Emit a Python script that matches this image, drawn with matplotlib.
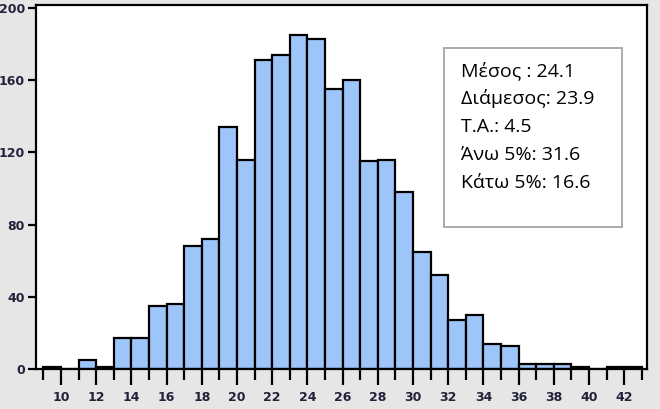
import numpy as np
import matplotlib.pyplot as plt

# histogram bins (left edges, width 1) and counts
bin_left = list(range(9, 43))
counts = [1, 0, 5, 1, 17, 17, 35, 36, 68, 72,
          134, 116, 171, 174, 185, 183, 155, 160, 115, 116,
          98, 65, 52, 27, 30, 14, 13, 3, 3, 3,
          1, 0, 1, 1]

major_ticks = list(range(10, 43, 2))
minor_ticks = list(range(9, 44, 2))
y_ticks = [0, 40, 80, 120, 160, 200]

stats_text = ["Μέσος : 24.1", "Διάμεσος: 23.9", "Τ.Α.: 4.5",
              "Άνω 5%: 31.6", "Κάτω 5%: 16.6"]

fig = plt.figure(figsize=(6.6, 4.09), dpi=100)
fig.patch.set_facecolor('#e6e6e6')
ax = fig.add_axes([0.0545, 0.0978, 0.9255, 0.890])
ax.set_facecolor('white')

ax.bar(bin_left, counts, width=1, align='edge', color='#9ec5fa',
       edgecolor='black', linewidth=1.6)

ax.set_xlim(8.58, 43.28)
ax.set_ylim(0, 201.7)

ax.set_xticks(major_ticks)
ax.set_xticks(minor_ticks, minor=True)
ax.set_yticks(y_ticks)
ax.tick_params(axis='x', which='major', length=11.5, width=1.6, labelsize=9,
               labelcolor='#22223a', pad=4.5)
ax.tick_params(axis='x', which='minor', length=8, width=1.6)
ax.tick_params(axis='y', length=6, width=1.6, labelsize=9, labelcolor='#22223a', pad=2)
for lab in ax.get_xticklabels() + ax.get_yticklabels():
    lab.set_fontweight('bold')

for s in ax.spines.values():
    s.set_linewidth(1.6)

# stats box
box = plt.Rectangle((444 / 660, 1 - 227 / 409), (622 - 444) / 660, (227 - 48) / 409,
                    transform=fig.transFigure, facecolor='white',
                    edgecolor='#a6a6a6', linewidth=1.3, zorder=5)
fig.patches.append(box)
for i, t in enumerate(stats_text):
    fig.text(461 / 660, 1 - (71 + 28 * i) / 409, t, fontsize=14,
             family=['Open Sans', 'DejaVu Sans'], va='center', ha='left',
             color='black', zorder=6)

fig.savefig('out.png', dpi=100, facecolor=fig.get_facecolor())
